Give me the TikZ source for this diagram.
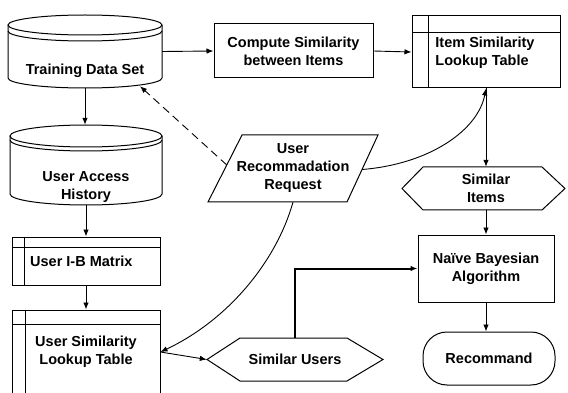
\documentclass[tikz,border=0pt]{standalone}
\usepackage{fontspec}
\setmainfont{Liberation Sans}
\usetikzlibrary{arrows.meta}
\begin{document}
\begin{tikzpicture}[x=1pt,y=-1pt,
  every node/.style={font=\bfseries\fontsize{14.5}{18}\selectfont, inner sep=0pt, align=center},
  shp/.style={line width=1pt},
  arr/.style={line width=0.9pt,-{Latex[length=7pt,width=5.5pt]}},
  box/.style={draw, line width=1pt, rectangle},
  hold/.style={rectangle, draw=none},
]
\useasboundingbox (0,0) rectangle (568,393);

% ---- Training Data Set (cylinder)
\node[hold, minimum width=154pt, minimum height=73pt] (tds) at (85,51.5) {};
\draw[shp] (8,25) -- (8,78) arc[start angle=180, end angle=360, x radius=77pt, y radius=10pt] -- (162,25);
\draw[shp] (85,25) ellipse [x radius=77pt, y radius=10pt];
\draw[shp] (8,31) arc[start angle=180, end angle=360, x radius=77pt, y radius=10pt];
\node (tdst) at (85,71) {Training Data Set};

% ---- User Access History (cylinder)
\node[hold, minimum width=152pt, minimum height=80pt] (uah) at (86,165) {};
\draw[shp] (10,136) -- (10,194) arc[start angle=180, end angle=360, x radius=76pt, y radius=11pt] -- (162,136);
\draw[shp] (86,136) ellipse [x radius=76pt, y radius=11pt];
\draw[shp] (10,140) arc[start angle=180, end angle=360, x radius=76pt, y radius=11pt];
\node (uaht) at (86,187) {User Access\\History};

% ---- User I-B Matrix (table)
\node[box, minimum width=148pt, minimum height=48pt] (ib) at (86,261) {};
\draw[shp] ([yshift=-11pt]ib.north west) -- ([yshift=-11pt]ib.north east);
\draw[shp] ([xshift=13pt]ib.north west) -- ([xshift=13pt]ib.south west);
\node[anchor=west] (ibt) at (30,261) {User I-B Matrix};

% ---- User Similarity Lookup Table (table, runs off the bottom)
\node[box, minimum width=148pt, minimum height=90pt] (uslt) at (86,355) {};
\draw[shp] ([yshift=-15pt]uslt.north west) -- ([yshift=-15pt]uslt.north east);
\draw[shp] ([xshift=14pt]uslt.north west) -- ([xshift=14pt]uslt.south west);
\node (uslth) at (86,352) {User Similarity\\Lookup Table};

% ---- Compute Similarity between Items
\node[box, minimum width=159pt, minimum height=54pt] (comp) at (293.5,51) {Compute Similarity\\between Items};

% ---- Item Similarity Lookup Table
\node[box, minimum width=148pt, minimum height=72pt, align=left] (itbl) at (486,52) {};
\draw[shp] ([yshift=-17pt]itbl.north west) -- ([yshift=-17pt]itbl.north east);
\draw[shp] ([xshift=17pt]itbl.north west) -- ([xshift=17pt]itbl.south west);
\node[align=left] (itblt) at (485,53) {Item Similarity\\Lookup Table};

% ---- User Recommadation Request (parallelogram)
\node[hold, minimum width=170pt, minimum height=67pt] (req) at (293,168.5) {User\\Recommadation\\Request};
\draw[shp] (242,135) -- (378,135) -- (347,202) -- (208,202) -- cycle;

% ---- Similar Items (hexagon)
\node[hold, minimum width=163pt, minimum height=43pt] (si) at (486,188.5) {Similar\\Items};
\draw[shp] (402,188.5) -- (423,167) -- (542,167) -- (565,188.5) -- (542,210) -- (423,210) -- cycle;

% ---- Similar Users (hexagon)
\node[hold, minimum width=176pt, minimum height=43pt] (su) at (295,359.5) {Similar Users};
\draw[shp] (207,359.5) -- (240,338) -- (347,338) -- (383,359.5) -- (347,381) -- (240,381) -- cycle;

% ---- Naive Bayesian Algorithm
\node[box, minimum width=136pt, minimum height=67pt] (nb) at (486,268.5) {Naïve Bayesian\\Algorithm};

% ---- Recommand
\node[box, rounded corners=24pt, minimum width=132pt, minimum height=53pt] (rec) at (489,358.5) {Recommand};

% ---- connectors
\draw[arr] (tds.south) -- (tds.south |- uah.north);
\draw[arr] (uah.south) -- (uah.south |- ib.north);
\draw[arr] (ib.south) -- (ib.south |- uslt.north);
\draw[arr] (tds.east) -- (comp.west);
\draw[arr] (comp.east) -- (itbl.west);
\draw[arr] (itbl.south) -- (itbl.south |- si.north);
\draw[arr] ([xshift=-16pt,yshift=-1pt]req.east) .. controls (430,164) and (478,130) .. (itbl.south);
\draw[arr, dash pattern=on 8pt off 5pt] ([xshift=19pt,yshift=3.5pt]req.west) -- ([xshift=55pt,yshift=2pt]tds.south);
\draw[arr] (req.south) .. controls (276,262) and (228,320) .. ([yshift=3pt]uslt.east);
\draw[arr] ([yshift=3pt]uslt.east) -- (su.west);
\draw[arr, line width=2pt] (su.north) |- (nb.west);
\draw[arr] (si.south) -- (si.south |- nb.north);
\draw[arr] (nb.south) -- (nb.south |- rec.north);
\end{tikzpicture}
\end{document}
